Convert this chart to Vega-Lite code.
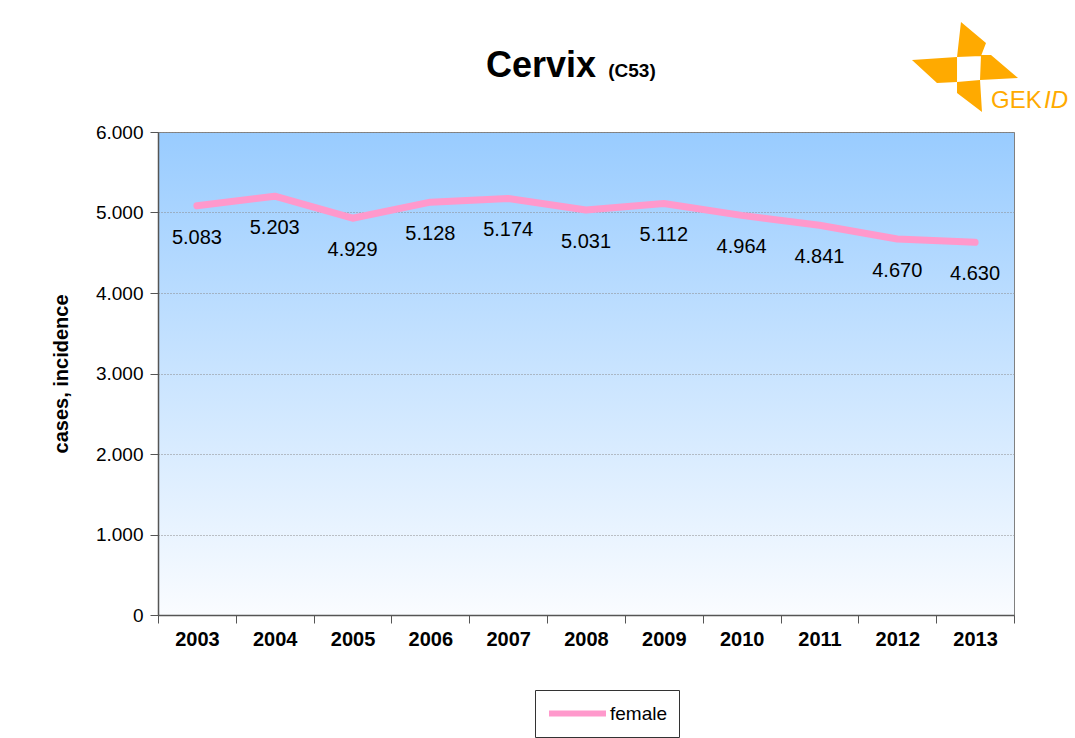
{
  "$schema": "https://vega.github.io/schema/vega-lite/v6.json",
  "autosize": {"type": "none"},
  "padding": {"left": 158, "top": 132, "right": 61, "bottom": 123},
  "width": 856,
  "height": 483,
  "background": "#ffffff",
  "data": {
    "values": [
      {"year": "2003", "cases": 5083, "sex": "female"},
      {"year": "2004", "cases": 5203, "sex": "female"},
      {"year": "2005", "cases": 4929, "sex": "female"},
      {"year": "2006", "cases": 5128, "sex": "female"},
      {"year": "2007", "cases": 5174, "sex": "female"},
      {"year": "2008", "cases": 5031, "sex": "female"},
      {"year": "2009", "cases": 5112, "sex": "female"},
      {"year": "2010", "cases": 4964, "sex": "female"},
      {"year": "2011", "cases": 4841, "sex": "female"},
      {"year": "2012", "cases": 4670, "sex": "female"},
      {"year": "2013", "cases": 4630, "sex": "female"}
    ]
  },
  "transform": [
    {"calculate": "replace(format(datum.cases, ',d'), ',', '.')", "as": "label"}
  ],
  "encoding": {
    "x": {
      "field": "year",
      "type": "ordinal",
      "scale": {"type": "band", "paddingInner": 0, "paddingOuter": 0},
      "axis": {
        "title": null,
        "labelAngle": 0,
        "labelFontSize": 20,
        "labelFontWeight": "bold",
        "labelFont": "Liberation Sans",
        "labelColor": "#000000",
        "labelPadding": 6,
        "tickBand": "extent",
        "tickSize": 8,
        "tickColor": "#555555",
        "domainColor": "#555555",
        "domainWidth": 1.5,
        "grid": false
      }
    },
    "y": {
      "field": "cases",
      "type": "quantitative",
      "scale": {"domain": [0, 6000], "nice": false},
      "axis": {
        "title": "cases, incidence",
        "titleFontSize": 20,
        "titleFontWeight": "bold",
        "titleFont": "Liberation Sans",
        "titleColor": "#000000",
        "titlePadding": 24,
        "values": [0, 1000, 2000, 3000, 4000, 5000, 6000],
        "labelExpr": "replace(format(datum.value, ',d'), ',', '.')",
        "labelFontSize": 19,
        "labelFont": "Liberation Sans",
        "labelColor": "#000000",
        "labelPadding": 7,
        "tickSize": 8,
        "tickColor": "#555555",
        "domainColor": "#555555",
        "domainWidth": 1.5,
        "grid": true,
        "gridColor": "#8a8a8a",
        "gridDash": [1, 2],
        "gridWidth": 1
      }
    }
  },
  "layer": [
    {
      "mark": {"type": "line", "strokeWidth": 7, "strokeCap": "round", "strokeJoin": "round"},
      "encoding": {
        "color": {
          "field": "sex",
          "type": "nominal",
          "scale": {"range": ["#FF99CC"]},
          "legend": {
            "title": null,
            "orient": "none",
            "legendX": 377,
            "legendY": 558,
            "symbolType": "M-3,0L3,0",
            "symbolStrokeWidth": 6,
            "symbolSize": 361,
            "symbolOffset": 19,
            "labelFontSize": 19,
            "labelFont": "Liberation Sans",
            "labelColor": "#000000",
            "labelOffset": 20,
            "padding": 11,
            "strokeColor": "#333333",
            "fillColor": "#ffffff"
          }
        }
      }
    },
    {
      "mark": {"type": "text", "dy": 32, "fontSize": 20, "font": "Liberation Sans", "color": "#000000"},
      "encoding": {"text": {"field": "label"}}
    },
    {
      "data": {"values": [{"t": "Cervix"}]},
      "mark": {"type": "text", "fontSize": 36, "fontWeight": "bold", "font": "Liberation Sans", "color": "#000000", "baseline": "alphabetic", "align": "center"},
      "encoding": {"x": {"value": 383}, "y": {"value": -55}, "text": {"field": "t"}}
    },
    {
      "data": {"values": [{"t": "(C53)"}]},
      "mark": {"type": "text", "fontSize": 19, "fontWeight": "bold", "font": "Liberation Sans", "color": "#000000", "baseline": "alphabetic", "align": "center"},
      "encoding": {"x": {"value": 474}, "y": {"value": -55}, "text": {"field": "t"}}
    },
    {
      "data": {"values": [{"logo": "GEKID"}]},
      "mark": {
        "type": "point",
        "filled": true,
        "color": "#FFAA00",
        "opacity": 1,
        "size": 12100,
        "shape": "M-0.073,-0.818L0.382,-0.436L0.291,-0.2L-0.145,-0.182Z M0.291,-0.218L0.473,-0.218L0.964,0.2L0.273,0.236Z M-0.964,-0.127L-0.145,-0.182L-0.145,0.273L-0.509,0.291Z M-0.145,0.273L0.273,0.236L0.309,0.818L-0.145,0.473Z"
      },
      "encoding": {"x": {"value": 807}, "y": {"value": -65}}
    },
    {
      "data": {"values": [{"t": "GEK"}]},
      "mark": {"type": "text", "fontSize": 24, "font": "Liberation Sans", "color": "#FFAA00", "baseline": "alphabetic", "align": "left"},
      "encoding": {"x": {"value": 833}, "y": {"value": -24}, "text": {"field": "t"}}
    },
    {
      "data": {"values": [{"t": "ID"}]},
      "mark": {"type": "text", "fontSize": 24, "fontStyle": "italic", "font": "Liberation Sans", "color": "#FFAA00", "baseline": "alphabetic", "align": "left"},
      "encoding": {"x": {"value": 886}, "y": {"value": -24}, "text": {"field": "t"}}
    }
  ],
  "config": {
    "view": {
      "fill": {
        "gradient": "linear",
        "x1": 0, "y1": 0, "x2": 0, "y2": 1,
        "stops": [
          {"offset": 0, "color": "#99CCFF"},
          {"offset": 1, "color": "#FAFCFF"}
        ]
      },
      "stroke": "#808080",
      "strokeWidth": 1
    }
  }
}
